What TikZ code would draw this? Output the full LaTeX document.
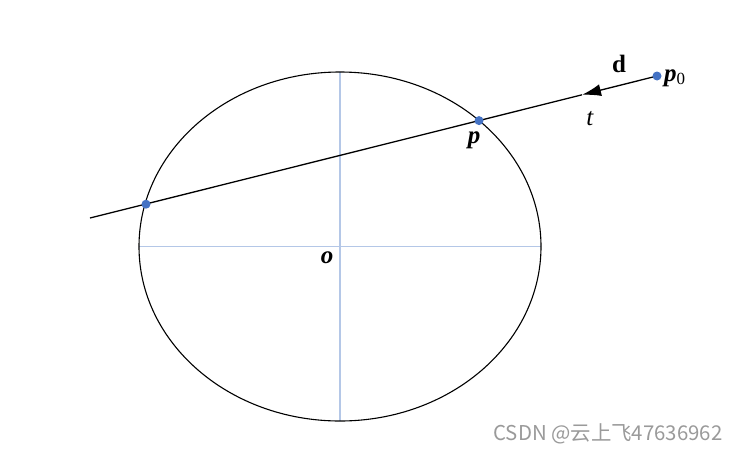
\documentclass[tikz,border=0pt]{standalone}
\usepackage{fontspec}
\setmainfont{Liberation Serif}
\newfontfamily\cjk{Noto Sans CJK SC}
\usetikzlibrary{arrows.meta}
\definecolor{axisblue}{HTML}{B4C7E7}
\definecolor{dotblue}{HTML}{4472C4}
\definecolor{wm}{HTML}{9A9A9A}
\tikzset{
  axis/.style={draw=axisblue, line width=1.6pt},
  curve/.style={draw=black, line width=1.1pt},
  ray/.style={draw=black, line width=1.3pt},
  dot/.style={circle, fill=dotblue, inner sep=0pt, minimum size=9pt},
  lab/.style={inner sep=0pt, font=\fontsize{25}{30}\selectfont},
}
\begin{document}
\begin{tikzpicture}[x=1pt,y=-1pt]
\useasboundingbox (0,0) rectangle (736,453);
\fill[white] (0,0) rectangle (736,453);
\coordinate (O) at (340,246.5);
\coordinate (AL) at (139,246.5);
\coordinate (AR) at (541,246.5);
\coordinate (AT) at (340,72);
\coordinate (AB) at (340,421);
\draw[axis] (AL) -- (AR);
\draw[axis] (AT) -- (AB);
\draw[curve] (O) ellipse [x radius=201pt, y radius=174.5pt];
\coordinate (P0) at (657,76);
\coordinate (tip) at (582,94.8);
\coordinate (L) at (90,218);
\draw[ray, -{Latex[length=19pt,width=12pt]}] (P0) -- (tip);
\draw[ray] (tip) -- (L);
\node[dot] (p0dot) at (P0) {};
\node[dot] (pdot) at (479,120.6) {};
\node[dot] (qdot) at (146,204.2) {};
\node[lab, anchor=west] (p0lab) at (664,78) {\textbf{\textit{p}}\textsubscript{\fontsize{17}{20}\selectfont 0}};
\node[lab] (dlab) at (619,64) {\textbf{d}};
\node[lab] (tlab) at (590,119) {\textit{t}};
\node[lab] (plab) at (474,140) {\textbf{\textit{p}}};
\node[lab] (olab) at (327,258) {\textbf{\textit{o}}};
\node[inner sep=0pt, text=wm, font=\cjk\fontsize{20.4}{24}\selectfont] (wmark) at (608,434) {CSDN @云上飞47636962};
\end{tikzpicture}
\end{document}
